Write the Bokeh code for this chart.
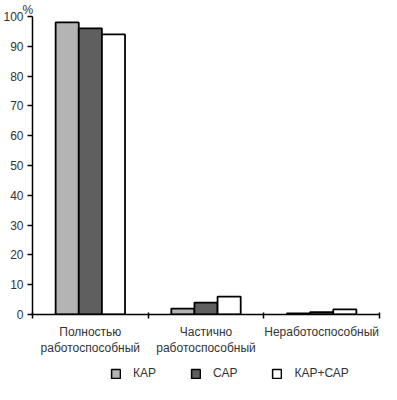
from bokeh.plotting import figure
from bokeh.layouts import column
from bokeh.models import (ColumnDataSource, Range1d, FixedTicker, Legend, LegendItem)
from bokeh.transform import dodge
from bokeh.embed import file_html
from bokeh.resources import INLINE

categories = ["Полностью\nработоспособный", "Частично\nработоспособный", "Неработоспособный"]
kap = [98, 2, 0.4]
sap = [96, 4, 0.8]
kap_sap = [94, 6, 1.7]
series_names = ["КАР", "САР", "КАР+САР"]
y_ticks = [0, 10, 20, 30, 40, 50, 60, 70, 80, 90, 100]

FONT = "Liberation Sans"
TXT = "#333333"

centers = [i + 0.5 for i in range(len(categories))]
src = ColumnDataSource(dict(x=centers, kap=kap, sap=sap, kap_sap=kap_sap))

p = figure(width=381, height=358, output_backend="svg", toolbar_location=None,
           x_range=Range1d(0, 3), y_range=Range1d(0, 100),
           title="%",
           min_border_left=30, min_border_right=2, min_border_top=14, min_border_bottom=40)
p.outline_line_color = None
p.xgrid.visible = False
p.ygrid.visible = False
p.background_fill_color = "white"
p.title.text_font = FONT
p.title.text_font_size = "12px"
p.title.text_font_style = "normal"
p.title.text_color = TXT
p.title.align = "left"
p.title.offset = -10
p.title.standoff = 0

fills = ["#b4b4b4", "#5f5f5f", "#ffffff"]
fields = ["kap", "sap", "kap_sap"]
offsets = [-0.2, 0.0, 0.2]
for f, c, o in zip(fields, fills, offsets):
    p.vbar(x=dodge("x", o), top=f, width=0.2, bottom=0, source=src,
           fill_color=c, line_color="black", line_width=1.8)

# x axis
xa = p.xaxis[0]
xa.ticker = FixedTicker(ticks=centers, minor_ticks=[0, 1, 2, 3])
xa.major_label_overrides = {c: lab for c, lab in zip(centers, categories)}
xa.major_tick_out = 0
xa.major_tick_in = 0
xa.minor_tick_out = 4
xa.minor_tick_in = 2
xa.minor_tick_line_color = "black"
xa.minor_tick_line_width = 1.5
xa.axis_line_color = "black"
xa.axis_line_width = 1.5
xa.major_label_text_font = FONT
xa.major_label_text_font_size = "12px"
xa.major_label_text_color = TXT
xa.major_label_standoff = 6

# y axis
ya = p.yaxis[0]
ya.ticker = FixedTicker(ticks=y_ticks)
ya.major_tick_out = 5
ya.major_tick_in = 0
ya.minor_tick_out = 0
ya.minor_tick_in = 0
ya.major_tick_line_color = "black"
ya.major_tick_line_width = 1.5
ya.axis_line_color = "black"
ya.axis_line_width = 1.5
ya.major_label_text_font = FONT
ya.major_label_text_font_size = "12px"
ya.major_label_text_color = TXT
ya.major_label_standoff = 4

# legend strip (swatch renderers hold no drawable bar; only the legend shows them)
p2 = figure(width=381, height=26, output_backend="svg", toolbar_location=None,
            x_range=Range1d(0, 1), y_range=Range1d(0, 1),
            min_border=0)
p2.axis.visible = False
p2.grid.visible = False
p2.outline_line_color = None
swatch = ColumnDataSource(dict(x=[0.5], top=[float("nan")]))
leg_renderers = []
for c in fills:
    r = p2.vbar(x="x", top="top", width=0.1, source=swatch,
                fill_color=c, line_color="black", line_width=1.5)
    leg_renderers.append(r)

legend = Legend(items=[LegendItem(label=n, renderers=[r]) for n, r in zip(series_names, leg_renderers)],
                orientation="horizontal", location=(74, 0))
legend.border_line_alpha = 0
legend.background_fill_alpha = 0
legend.label_text_font = FONT
legend.label_text_font_size = "12px"
legend.label_text_color = TXT
legend.glyph_width = 11
legend.glyph_height = 11
legend.label_standoff = 12
legend.spacing = 34
legend.margin = 0
legend.padding = 4
p2.add_layout(legend)

layout = column(p, p2, spacing=0)
open("out.html", "w").write(file_html(layout, INLINE))
